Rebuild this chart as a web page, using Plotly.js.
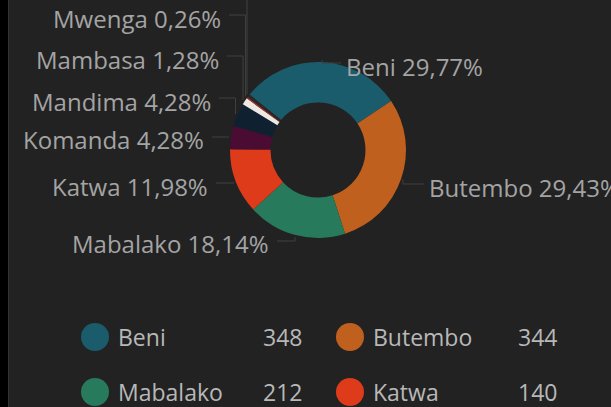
<!DOCTYPE html>
<html><head><meta charset="utf-8">
<script src="https://cdn.plot.ly/plotly-3.0.1.min.js"></script>
<style>html,body{margin:0;padding:0;background:#222222;overflow:hidden}#chart{width:611px;height:407px}</style>
</head><body><div id="chart"></div>
<script>
// ---- data ----
const zones = ['Beni', 'Butembo', 'Mabalako', 'Katwa', 'Komanda', 'Mandima', 'Mambasa', 'Mwenga', 'Autre'];
const cases = [348, 344, 212, 140, 50, 50, 15, 3, 7];

// ---- styles / layout ----
const sliceColors = ['#1a5b6c', '#c0601f', '#287a5d', '#de3b1b', '#4a0c33', '#0f2131', '#ece8e3', '#b8302a', '#2a2a2a'];
const W = 611, H = 407;
const CX = 318, CY = 150, R = 88, HOLE = 0.54, ROT = -51;
const labelPos = [
  {x: 344, y: 66, side: 'left'},
  {x: 427, y: 187, side: 'left'},
  {x: 271, y: 244, side: 'right'},
  {x: 210, y: 186, side: 'right'},
  {x: 206, y: 140, side: 'right'},
  {x: 213, y: 101, side: 'right'},
  {x: 221, y: 59, side: 'right'},
  {x: 223, y: 18, side: 'right'},
  {x: 223, y: -24, side: 'right'}
];
const labelFont = {family: 'Open Sans, sans-serif', size: 24, color: '#a4a4a4'};
const legendFont = {family: 'Open Sans, sans-serif', size: 23, color: '#b8b8b8'};
const legendCols = [{c: 95, name: 116, val: 304}, {c: 350, name: 371, val: 559}];
const legendRow0 = 337, legendRowStep = 55, legendR = 14;

const px = x => x / W;
const py = y => 1 - y / H;

const total = cases.reduce((a, b) => a + b, 0);
const fmtPct = v => (v / total * 100).toFixed(2).replace('.', ',') + '%';

const shapes = [];
const annotations = [];

// left black strip + border
shapes.push({type: 'rect', xref: 'paper', yref: 'paper', x0: 0, x1: px(8), y0: 0, y1: 1, fillcolor: '#000000', line: {width: 0}, layer: 'below'});
shapes.push({type: 'line', xref: 'paper', yref: 'paper', x0: px(8.5), x1: px(8.5), y0: 0, y1: 1, line: {color: '#333333', width: 1}, layer: 'below'});

// labels + leader lines, angle computed from data like plotly (clockwise from 12 o'clock)
let acc = ROT;
cases.forEach((v, i) => {
  const span = v / total * 360;
  const mid = (acc + span / 2) * Math.PI / 180;
  acc += span;
  const p = {x: CX + (R + 2) * Math.sin(mid), y: CY - (R + 2) * Math.cos(mid)};
  const lp = labelPos[i];
  const ly = lp.y - 3;
  const ex = lp.side === 'left' ? lp.x - 3 : lp.x + 6;
  shapes.push({type: 'path', xref: 'paper', yref: 'paper',
    path: `M ${px(p.x)} ${py(p.y)} L ${px(p.x)} ${py(ly)} L ${px(ex)} ${py(ly)}`,
    line: {color: '#404040', width: 1}});
  annotations.push({xref: 'paper', yref: 'paper', x: px(lp.x), y: py(lp.y), xanchor: lp.side, yanchor: 'middle',
    showarrow: false, text: zones[i] + ' ' + fmtPct(v), font: labelFont});
});

// legend
zones.forEach((z, i) => {
  const col = legendCols[i % 2];
  const cy = legendRow0 + Math.floor(i / 2) * legendRowStep;
  if (cy > H + 40) return;
  shapes.push({type: 'circle', xref: 'paper', yref: 'paper',
    x0: px(col.c - legendR), x1: px(col.c + legendR), y0: py(cy + legendR), y1: py(cy - legendR),
    fillcolor: sliceColors[i], line: {width: 0}});
  annotations.push({xref: 'paper', yref: 'paper', x: px(col.name), y: py(cy), xanchor: 'left', yanchor: 'middle',
    showarrow: false, text: z, font: legendFont});
  annotations.push({xref: 'paper', yref: 'paper', x: px(col.val), y: py(cy), xanchor: 'right', yanchor: 'middle',
    showarrow: false, text: String(cases[i]), font: legendFont});
});

const trace = {
  type: 'pie', labels: zones, values: cases, sort: false, direction: 'clockwise', rotation: ROT,
  hole: HOLE, textinfo: 'none', hoverinfo: 'skip', showlegend: false,
  marker: {colors: sliceColors, line: {width: 0}},
  domain: {x: [px(CX - R), px(CX + R)], y: [py(CY + R), py(CY - R)]}
};

Plotly.newPlot('chart', [trace], {
  width: W, height: H, margin: {l: 0, r: 0, t: 0, b: 0},
  paper_bgcolor: '#222222', plot_bgcolor: '#222222',
  showlegend: false, shapes: shapes, annotations: annotations
}, {displayModeBar: false, staticPlot: true});
</script>
</body></html>
